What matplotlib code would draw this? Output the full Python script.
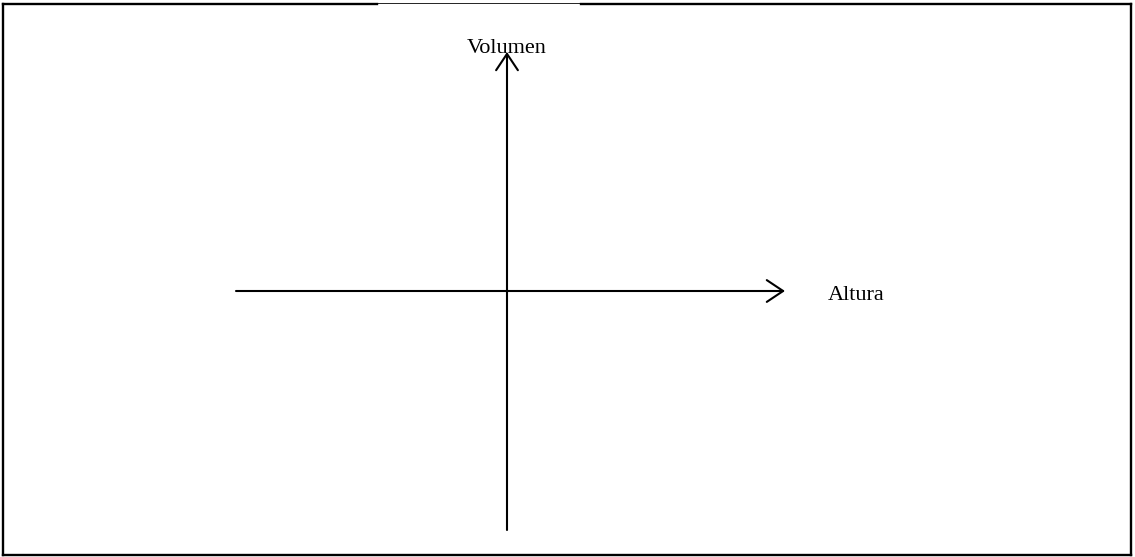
import matplotlib
matplotlib.use("Agg")
import matplotlib.pyplot as plt
from matplotlib.lines import Line2D

# diagram data: two axes crossing at the origin (units ~ pixels)
x_label = "Altura"
y_label = "Volumen"
x_span = [-271, 278]   # horizontal axis, left end -> arrow tip
y_span = [-239, 239]   # vertical axis, bottom end -> arrow tip

W, H = 1135, 557
ox, oy = 507, 291      # where the origin sits in the picture

fig = plt.figure(figsize=(W / 100, H / 100), dpi=100)
ax = fig.add_axes([0, 0, 1, 1])
ax.set_xlim(-ox, W - ox)
ax.set_ylim(oy - H, oy)
ax.axis("off")

arrow = dict(arrowstyle="->,head_length=0.42,head_width=0.28",
             mutation_scale=28, lw=1.5, color="black", shrinkA=0, shrinkB=0)
ax.annotate("", xy=(x_span[1], 0), xytext=(x_span[0], 0), arrowprops=arrow)
ax.annotate("", xy=(0, y_span[1]), xytext=(0, y_span[0]), arrowprops=arrow)

serif = ["Liberation Serif", "DejaVu Serif"]
ax.text(0, y_span[1] - 1, y_label, ha="center", va="baseline",
        fontsize=16, family=serif)
ax.text(x_span[1] + 43, -4, x_label, ha="left", va="center",
        fontsize=16, family=serif)

# frame around the picture, top edge partly thin
def px(x, y):
    return x / W, 1 - y / H

def seg(p, q, lw):
    (x0, y0), (x1, y1) = px(*p), px(*q)
    fig.add_artist(Line2D([x0, x1], [y0, y1], lw=lw, color="black",
                          solid_capstyle="projecting"))

seg((3, 3.5), (377, 3.5), 1.7)
seg((377, 3), (581, 3), 0.6)
seg((581, 3.5), (1131, 3.5), 1.7)
seg((3, 3.5), (3, 555), 1.7)
seg((1131, 3.5), (1131, 555), 1.7)
seg((3, 555), (1131, 555), 1.7)

fig.savefig("out.png", dpi=100)
